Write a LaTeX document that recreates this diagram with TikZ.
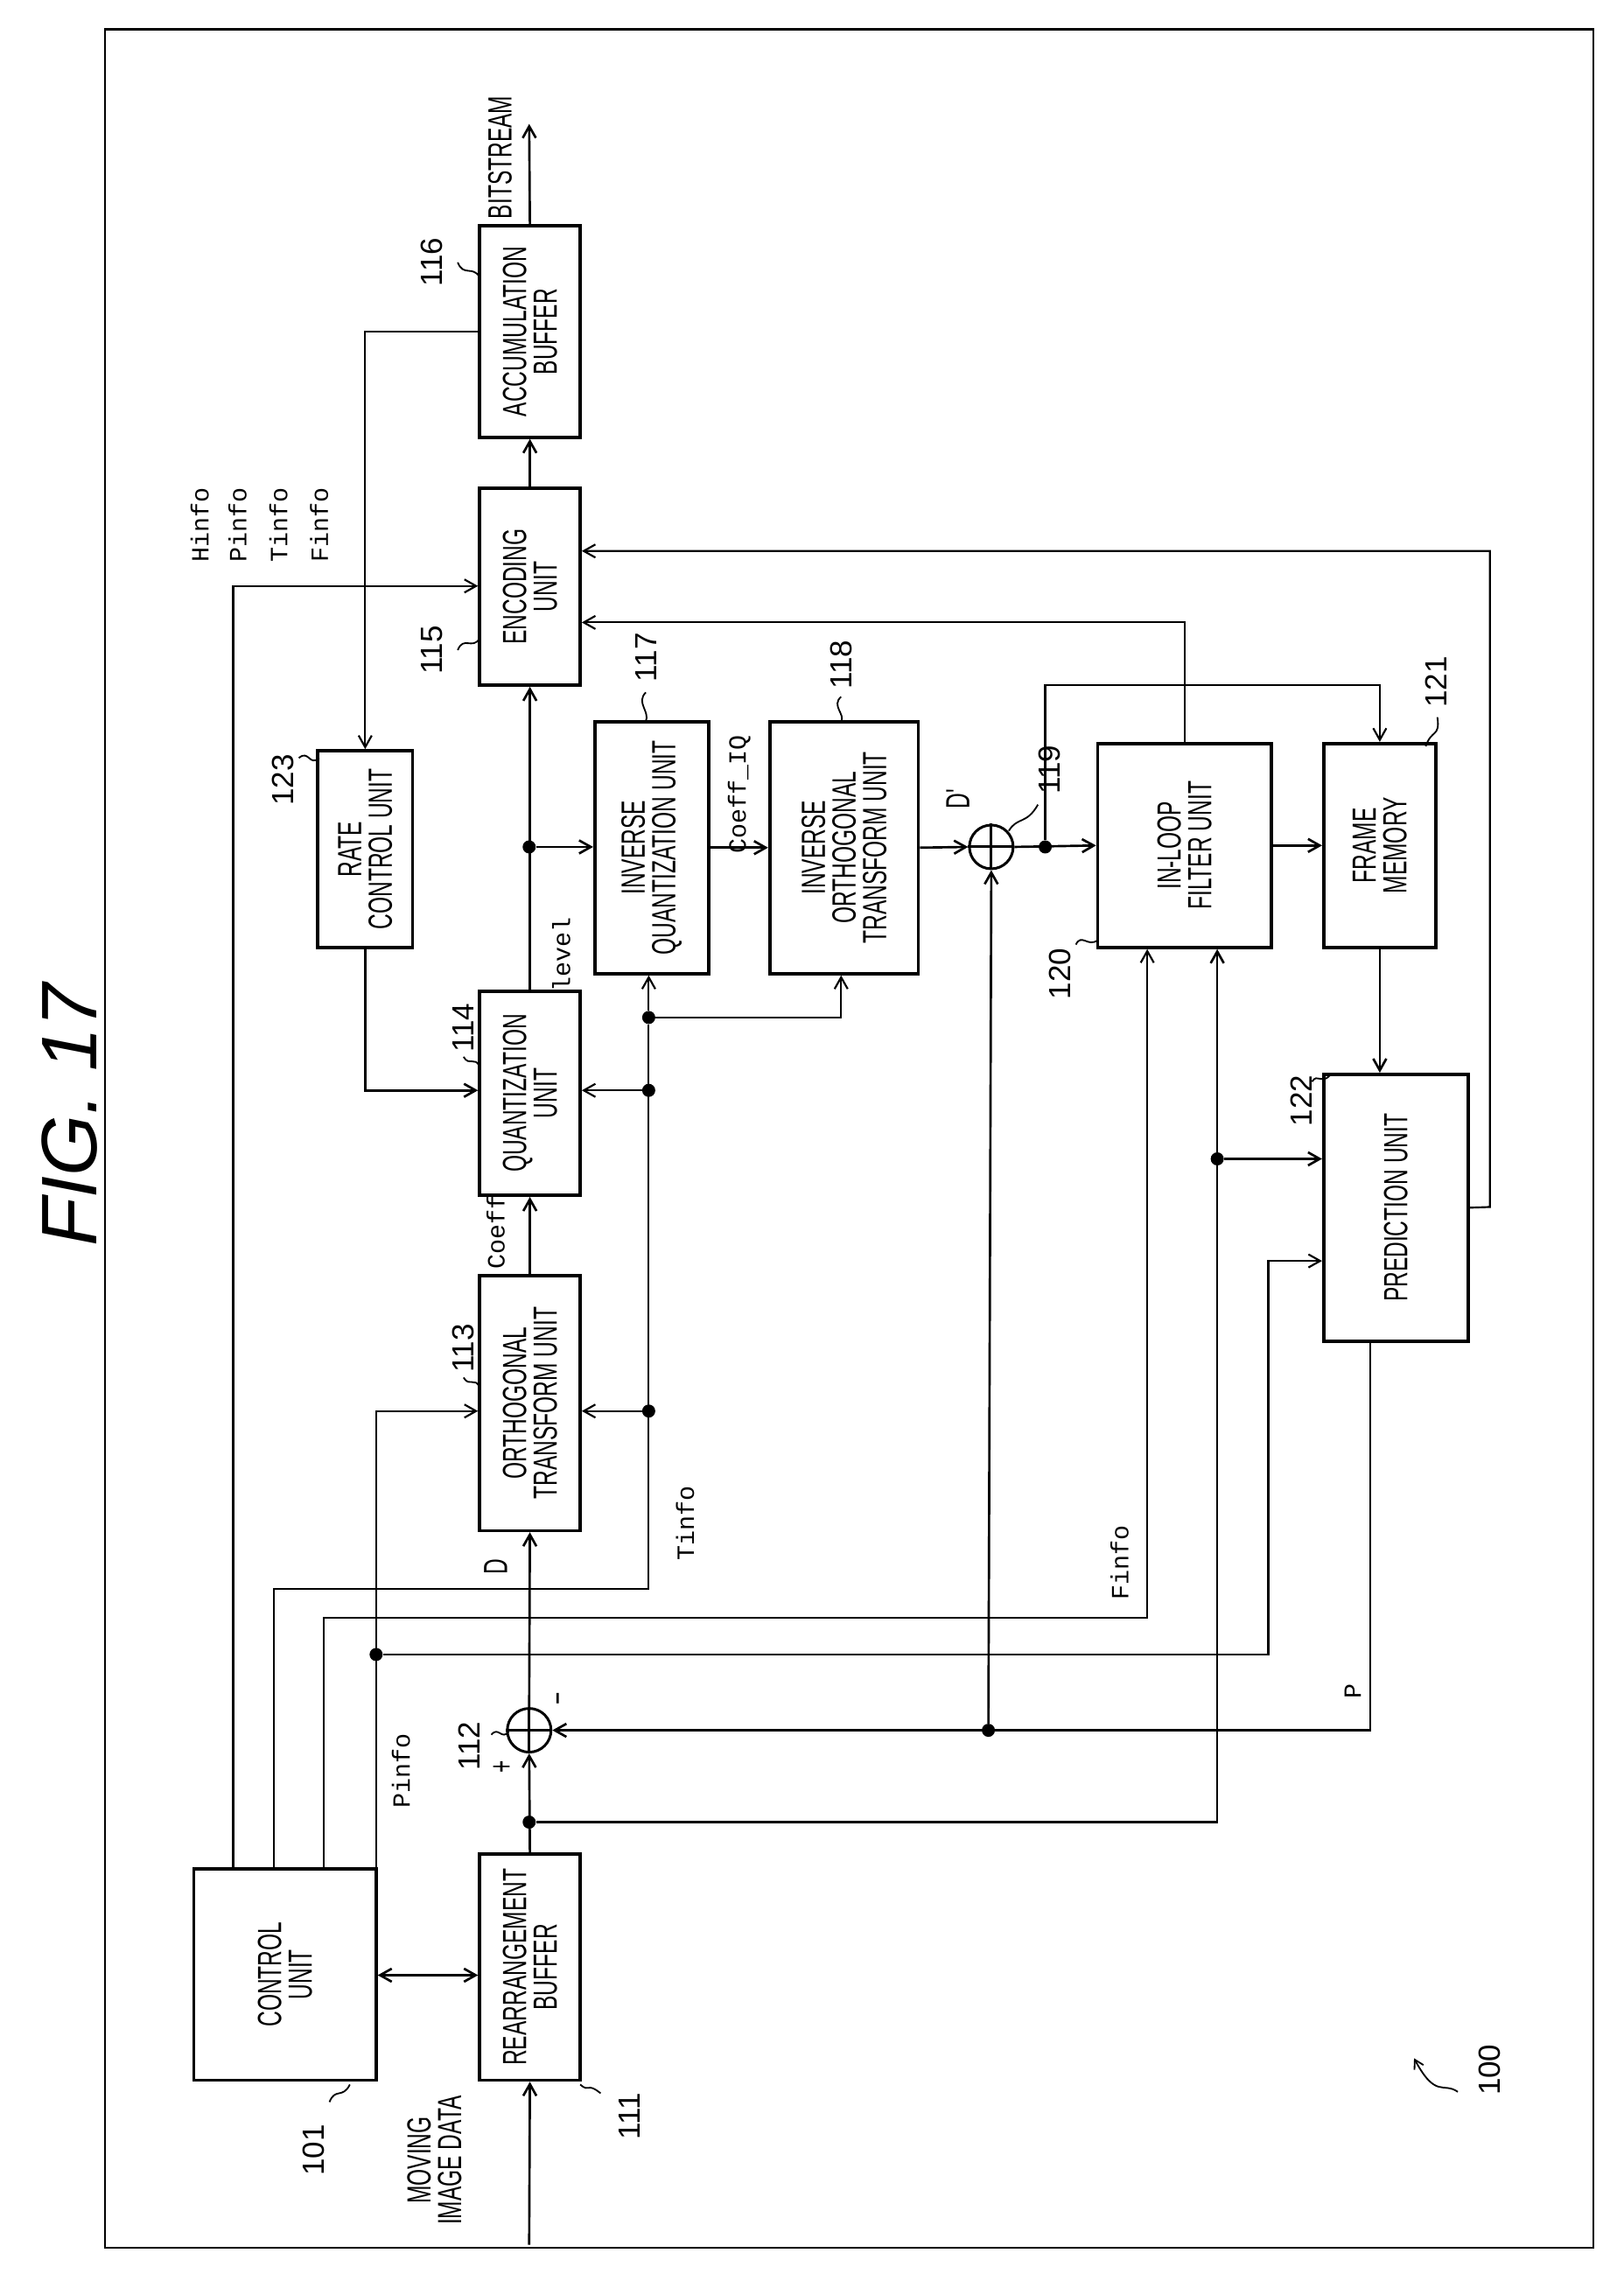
\documentclass[tikz,border=0pt]{standalone}
\usepackage{fontspec}
\setmainfont{Liberation Sans}
\newfontfamily\cond[FakeStretch=0.64]{Liberation Sans}
\newfontfamily\mono{Liberation Mono}
\usetikzlibrary{arrows.meta}
\begin{document}
\begin{tikzpicture}[x=1pt,y=-1pt,
  box/.style={draw,line width=2.2pt,inner sep=0pt},
  lbl/.style={rotate=90,align=center,font=\cond\fontsize{23}{21}\selectfont},
  num/.style={rotate=90,font=\fontsize{21}{21}\selectfont},
  ml/.style={rotate=90,font=\mono\fontsize{17}{17}\selectfont},
  ln/.style={line width=1.6pt},
  thin/.style={line width=1.3pt},
  >={Straight Barb[length=8pt,width=9pt]},
  dot/.style={circle,fill,inner sep=0pt,minimum size=9pt},
  add/.style={circle,draw,line width=1.8pt,minimum size=30pt,inner sep=0pt},
  sq/.style={line width=1.1pt}]
\useasboundingbox (0,0) rectangle (1114,1560);
\draw[line width=1.5pt] (72,20) rectangle (1093,1542);
\newcommand\bx[6]{\node[box,minimum width={(#4-#2)*1pt},minimum height={(#5-#3)*1pt}] (#1) at ({(#2+#4)/2},{(#3+#5)/2}) {};
  \node[lbl] at (#1) {#6};}
\node[rotate=90,font=\itshape\fontsize{54}{54}\selectfont] (fig) at (48,765) {FIG. 17};
\bx{ctrl}{133}{1282}{258}{1427}{CONTROL\\UNIT}
\bx{rb}{329}{1272}{398}{1427}{REARRANGEMENT\\BUFFER}
\bx{ot}{329}{875}{398}{1050}{ORTHOGONAL\\TRANSFORM UNIT}
\bx{qu}{329}{680}{398}{820}{QUANTIZATION\\UNIT}
\bx{en}{329}{335}{398}{470}{ENCODING\\UNIT}
\bx{ab}{329}{155}{398}{300}{ACCUMULATION\\BUFFER}
\bx{rc}{218}{515}{283}{650}{RATE\\CONTROL UNIT}
\bx{iq}{408}{495}{486}{668}{INVERSE\\QUANTIZATION UNIT}
\bx{it}{528}{495}{630}{668}{INVERSE\\ORTHOGONAL\\TRANSFORM UNIT}
\bx{lf}{753}{510}{872}{650}{IN-LOOP\\FILTER UNIT}
\bx{fm}{908}{510}{985}{650}{FRAME\\MEMORY}
\bx{pr}{908}{737}{1007}{920}{PREDICTION UNIT}
\node[add] (a1) at (363,1187) {};
\draw[line width=1.8pt] (a1.north)--(a1.south) (a1.west)--(a1.east);
\node[add] (a2) at (680,581) {};
\draw[line width=1.8pt] (a2.north)--(a2.south) (a2.west)--(a2.east);
\node[dot] (d1) at (363,1250) {};
\node[dot] (d2) at (835,795) {};
\node[dot] (d3) at (363,581) {};
\node[dot] (d4) at (717,581) {};
\node[dot] (d5) at (678,1187) {};
\node[dot] (t1) at (445,968) {};
\node[dot] (t2) at (445,748) {};
\node[dot] (t3) at (445,698) {};
\node[dot] (p1) at (258,1135) {};
\coordinate (in) at (363,1540);
\coordinate (out) at (363,85);
% main path
\draw[ln,->] (in) -- (rb.south);
\draw[ln,->] (rb.north) -- (a1.south);
\draw[ln,->] (d1) -| (lf.south -| 835,0);
\draw[ln,->] (d2) -- (pr.west |- d2);
\draw[ln,->] (a1.north) -- (ot.south);
\draw[ln,->] (ot.north) -- (qu.south);
\draw[ln,->] (qu.north) -- (en.south);
\draw[ln,->] (d3) -- (iq.west |- d3);
\draw[ln,->] (rc.south) |- (qu.west |- 0,748);
\draw[thin,->] (ab.west) -| (rc.north);
\draw[ln,->] (en.north) -- (ab.south);
\draw[ln,->] (ab.north) -- (out);
\draw[ln,->] (iq.east) -- (it.west);
\draw[ln,->] (it.east) -- (a2.west);
\draw[ln,->] (a2.east) -- (lf.west);
\draw[thin,->] (d4) |- (fm.north |- 0,470) -- (fm.north);
\draw[thin,->] (lf.north) |- (en.east |- 0,427);
\draw[ln,->] (lf.east) -- (fm.west);
\draw[ln,->] (fm.south) -- (fm.south |- pr.north);
\draw[thin,->] (pr.east) -- (1022,828) |- (en.east |- 0,378);
\draw[ln,->] (pr.south -| 940,0) |- (a1.east);
\draw[ln,->] (d5) -- (a2.south);
% control lines
\draw[thin,->] (ctrl.north -| 160,0) |- (en.west |- 0,402);
\draw[thin] (ctrl.north -| 188,0) |- (445,1090) -- (t3);
\draw[thin,->] (t1) -- (ot.east |- t1);
\draw[thin,->] (t2) -- (qu.east |- t2);
\draw[thin,->] (t3) -- (iq.south -| t3);
\draw[thin,->] (t3) -| (it.south -| 577,0);
\draw[thin,->] (ctrl.north -| 222,0) |- (787,1110) -- (lf.south -| 787,0);
\draw[thin,->] (ctrl.north -| 258,0) |- (ot.west |- 0,968);
\draw[thin,->] (p1) -| (870,865) -- (pr.west |- 0,865);
\draw[ln,<->] (ctrl.east |- 0,1355) -- (rb.west |- 0,1355);
% labels
\node[lbl] (lD) at (340,1075) {D};
\node[ml] (lC) at (340,845) {Coeff};
\node[ml] (lL) at (385,655) {level};
\node[ml] (lCI) at (507,545) {Coeff\_IQ};
\node[lbl] (lDp) at (657,548) {D'};
\node[ml] (lT) at (470,1045) {Tinfo};
\node[ml] (lF) at (768,1072) {Finfo};
\node[ml] (lP) at (275,1215) {Pinfo};
\node[ml] (lPP) at (928,1160) {P};
\node[lbl] (plus) at (345,1212) {+};
\node[lbl] (minus) at (386,1165) {\textminus};
\node[ml] (h1) at (137,360) {Hinfo};
\node[ml] (h2) at (163,360) {Pinfo};
\node[ml] (h3) at (191,360) {Tinfo};
\node[ml] (h4) at (219,360) {Finfo};
\node[lbl] (bs) at (343,108) {BITSTREAM};
\node[lbl] (mv) at (298,1482) {MOVING\\IMAGE DATA};
% numbers
\node[num] (n101) at (215,1475) {101};
\draw[sq] (240,1430) .. controls (235,1440) and (230,1432) .. (226,1442);
\node[num] (n111) at (432,1452) {111};
\draw[sq] (398,1430) .. controls (405,1436) and (402,1428) .. (412,1436);
\node[num] (n112) at (322,1198) {112};
\draw[sq] (337,1190) .. controls (342,1184) and (344,1194) .. (349,1188);
\node[num] (n113) at (318,925) {113};
\draw[sq] (318,945) .. controls (322,952) and (326,944) .. (329,952);
\node[num] (n114) at (318,705) {114};
\draw[sq] (318,725) .. controls (322,732) and (326,724) .. (329,732);
\node[num] (n115) at (296,446) {115};
\draw[sq] (314,446) .. controls (318,436) and (324,446) .. (329,438);
\node[num] (n116) at (296,180) {116};
\draw[sq] (314,180) .. controls (318,190) and (324,182) .. (329,190);
\node[num] (n117) at (443,451) {117};
\draw[sq] (443,475) .. controls (436,482) and (446,488) .. (443,495);
\node[num] (n118) at (577,456) {118};
\draw[sq] (577,478) .. controls (570,484) and (580,490) .. (577,495);
\node[num] (n119) at (720,528) {119};
\draw[sq] (692,570) .. controls (698,560) and (704,566) .. (712,552);
\node[num] (n120) at (727,668) {120};
\draw[sq] (738,648) .. controls (742,640) and (746,650) .. (753,645);
\node[num] (n121) at (985,468) {121};
\draw[sq] (978,512) .. controls (982,500) and (988,506) .. (986,492);
\node[num] (n122) at (893,755) {122};
\draw[sq] (900,742) .. controls (904,736) and (906,744) .. (912,738);
\node[num] (n123) at (194,535) {123};
\draw[sq] (205,520) .. controls (212,514) and (212,526) .. (219,520);
\node[num] (n100) at (1022,1420) {100};
\draw[sq,->,>={Straight Barb[length=6pt,width=7pt]}] (1000,1435) .. controls (990,1428) and (985,1440) .. (970,1412);
\end{tikzpicture}
\end{document}
